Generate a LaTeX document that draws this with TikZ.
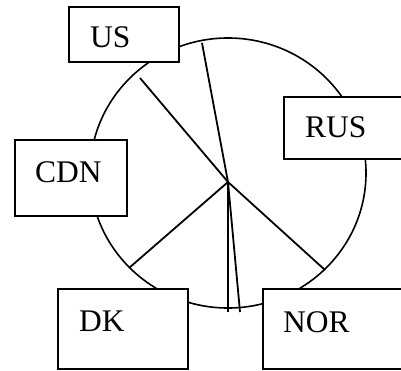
\documentclass[tikz,border=0pt]{standalone}
\usepackage{fontspec}
\setmainfont{Liberation Serif}

\begin{document}
\begin{tikzpicture}[x=1pt, y=-1pt,
  box/.style={draw, fill=white, line width=2pt, inner sep=0pt},
  lbl/.style={anchor=base west, inner sep=0pt, font=\fontsize{31.5}{38}\selectfont},
  spoke/.style={line width=1.8pt}]
\useasboundingbox (0,0) rectangle (401,370);
\clip (0,0) rectangle (401,370);

\coordinate (C) at (228,173) ;
\coordinate (H) at (228,182) ;
\coordinate (E1) at (140,78) ;
\coordinate (E2) at (202,43) ;
\coordinate (E3) at (129,268) ;
\coordinate (E4) at (325,270) ;
\coordinate (E5) at (228,312) ;
\coordinate (E6) at (240,312) ;

\draw [line width=1.6pt] (C) ellipse [x radius=138, y radius=135];

\draw [spoke] (H) -- (E1) ;
\draw [spoke] (H) -- (E2) ;
\draw [spoke] (H) -- (E3) ;
\draw [spoke] (H) -- (E4) ;
\draw [spoke] (H) -- (E5) ;
\draw [spoke] (H) -- (E6) ;

\node [box, minimum width=110pt, minimum height=55pt] (US) at (124,34.5) {};
\node [box, minimum width=126pt, minimum height=62pt] (RUS) at (347,128) {};
\node [box, minimum width=112pt, minimum height=76pt] (CDN) at (71,178) {};
\node [box, minimum width=130pt, minimum height=80pt] (DK) at (123,329) {};
\node [box, minimum width=147pt, minimum height=80pt] (NOR) at (336.5,329) {};

\node [lbl] (USt) at (90,47) {US};
\node [lbl] (RUSt) at (305,137) {RUS};
\node [lbl] (CDNt) at (35,182) {CDN};
\node [lbl] (DKt) at (79,331) {DK};
\node [lbl] (NORt) at (283,332) {NOR};
\end{tikzpicture}
\end{document}
